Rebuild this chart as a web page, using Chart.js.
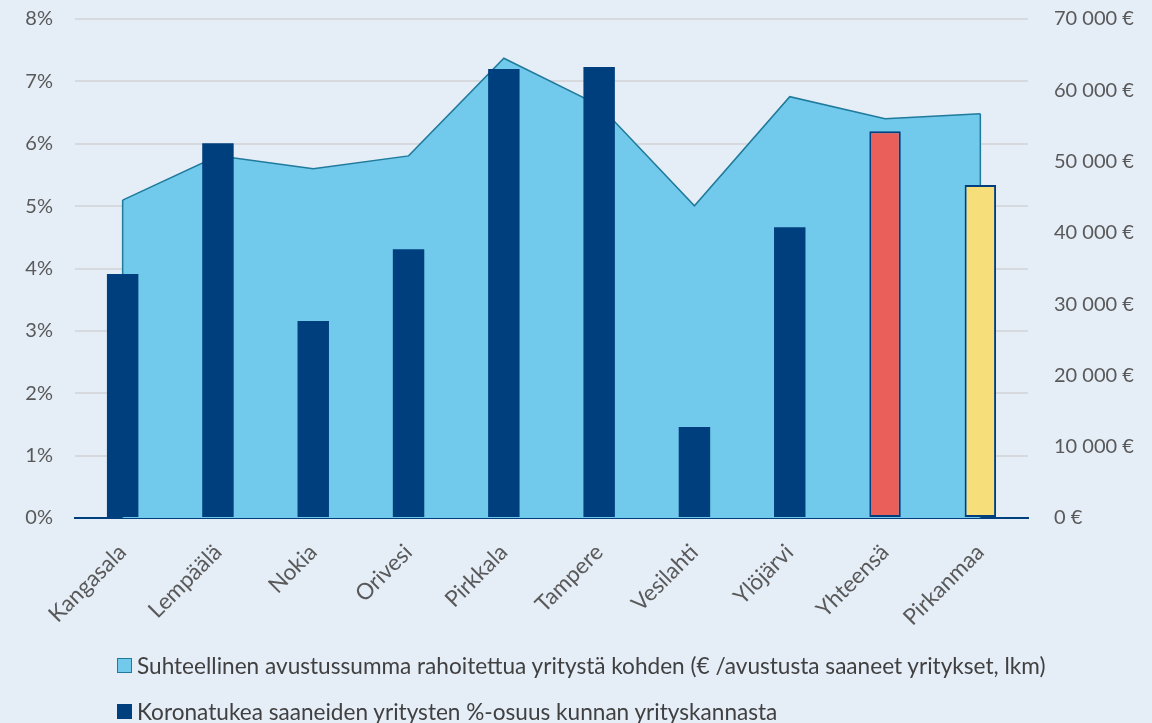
<!DOCTYPE html>
<html lang="fi">
<head>
<meta charset="utf-8">
<script src="https://cdn.jsdelivr.net/npm/chart.js@4.4.1/dist/chart.umd.min.js"></script>
<style>
    html, body { margin: 0; padding: 0; background: #E5EDF7; }
    #wrap { position: relative; width: 1152px; height: 723px; }
    #legend { position: absolute; left: 117px; top: 653px; font-family: Lato, sans-serif; font-size: 22.6px; color: #404040; }
    #legend div { display: flex; align-items: center; height: 24px; margin-bottom: 22px; white-space: nowrap; }
    #legend span.box { display: inline-block; width: 15px; height: 15px; margin-right: 5px; box-sizing: border-box; }
</style>
</head>
<body>
<div id="wrap">
    <canvas id="chartKorona" width="1152" height="723"></canvas>
    <div id="legend"></div>
</div>
<script>
// Kunnat ja vertailut
const categories = ['Kangasala', 'Lempäälä', 'Nokia', 'Orivesi', 'Pirkkala', 'Tampere', 'Vesilahti', 'Ylöjärvi', 'Yhteensä', 'Pirkanmaa'];
// Koronatukea saaneiden yritysten osuus (%)
const shares = [3.91, 6.01, 3.16, 4.31, 7.20, 7.23, 1.46, 4.66, 6.20, 5.34];
// Suhteellinen avustussumma (€ / yritys)
const amounts = [44600, 50800, 49000, 50800, 64500, 57900, 43800, 59100, 56000, 56700];
const leftTicks = [0, 1, 2, 3, 4, 5, 6, 7, 8];
const rightTicks = [0, 10000, 20000, 30000, 40000, 50000, 60000, 70000];

const areaLabel = 'Suhteellinen avustussumma rahoitettua yritystä kohden (€ /avustusta saaneet yritykset, lkm)';
const barLabel = 'Koronatukea saaneiden yritysten %-osuus kunnan yrityskannasta';

const navy = '#003F7D';
const areaLine = '#1F7A9C';
const barColors = categories.map(function (c) {
    if (c === 'Yhteensä') return '#EB5F5A';
    if (c === 'Pirkanmaa') return '#F6DE7A';
    return navy;
});
const barBorders = categories.map(function (c) {
    return (c === 'Yhteensä' || c === 'Pirkanmaa') ? 2 : 0;
});

function euro(v) {
    return String(v).replace(/\B(?=(\d{3})+(?!\d))/g, ' ') + ' €';
}

// pinta-alan pystyreunat ensimmäisen ja viimeisen pisteen kohdalla
const areaEdges = {
    id: 'areaEdges',
    afterDatasetDraw: function (chart, args) {
        if (args.index !== 0) return;
        const pts = args.meta.data;
        const base = chart.scales.y1.getPixelForValue(0);
        const c = chart.ctx;
        c.save();
        c.strokeStyle = areaLine;
        c.lineWidth = 1.5;
        [pts[0], pts[pts.length - 1]].forEach(function (p) {
            c.beginPath();
            c.moveTo(p.x, p.y);
            c.lineTo(p.x, base);
            c.stroke();
        });
        c.restore();
    }
};

function noPad(axis) {
    axis.paddingTop = 0;
    axis.paddingBottom = 0;
}

const tickFont = { family: 'Lato', size: 20 };
const ctx = document.getElementById('chartKorona').getContext('2d');

new Chart(ctx, {
    type: 'bar',
    data: {
        labels: categories,
        datasets: [{
            type: 'line',
            label: areaLabel,
            data: amounts,
            yAxisID: 'y1',
            borderColor: areaLine,
            backgroundColor: '#71C9EB',
            borderWidth: 1.5,
            fill: 'origin',
            tension: 0,
            pointRadius: 0,
            order: 1
        }, {
            type: 'bar',
            label: barLabel,
            data: shares,
            yAxisID: 'y',
            backgroundColor: barColors,
            borderColor: navy,
            borderWidth: barBorders,
            borderSkipped: false,
            barPercentage: 0.33,
            categoryPercentage: 1,
            order: 0
        }]
    },
    options: {
        responsive: false,
        animation: false,
        layout: { padding: { top: 19, bottom: 0, left: 0, right: 0 } },
        plugins: {
            legend: { display: false },
            tooltip: { enabled: false }
        },
        scales: {
            x: {
                offset: true,
                grid: { display: false },
                border: { display: true, color: navy, width: 2 },
                ticks: {
                    color: '#595959',
                    font: { family: 'Lato', size: 22.5 },
                    maxRotation: 45,
                    minRotation: 45,
                    padding: 13
                },
                afterFit: function (axis) { axis.height = 205; }
            },
            y: {
                position: 'left',
                min: 0,
                max: 8,
                afterBuildTicks: function (axis) { axis.ticks = leftTicks.map(function (v) { return { value: v }; }); },
                grid: { color: '#D6D9DE', lineWidth: 2, drawTicks: false },
                border: { display: false },
                ticks: {
                    color: '#595959',
                    font: tickFont,
                    padding: 22,
                    callback: function (v) { return v + '%'; }
                },
                afterFit: function (axis) { axis.width = 75; noPad(axis); }
            },
            y1: {
                position: 'right',
                min: 0,
                max: 70000,
                afterBuildTicks: function (axis) { axis.ticks = rightTicks.map(function (v) { return { value: v }; }); },
                grid: { display: false },
                border: { display: false },
                ticks: {
                    color: '#595959',
                    font: tickFont,
                    padding: 18,
                    callback: function (v) { return euro(v); }
                },
                afterFit: function (axis) { axis.width = 124; noPad(axis); }
            }
        }
    },
    plugins: [areaEdges]
});

// Selite kahdelle riville kuten alkuperäisessä
const legend = document.getElementById('legend');
[[areaLabel, '#71C9EB', areaLine], [barLabel, navy, navy]].forEach(function (item) {
    const row = document.createElement('div');
    const box = document.createElement('span');
    box.className = 'box';
    box.style.background = item[1];
    box.style.border = '1.5px solid ' + item[2];
    row.appendChild(box);
    row.appendChild(document.createTextNode(item[0]));
    legend.appendChild(row);
});
</script>
</body>
</html>
